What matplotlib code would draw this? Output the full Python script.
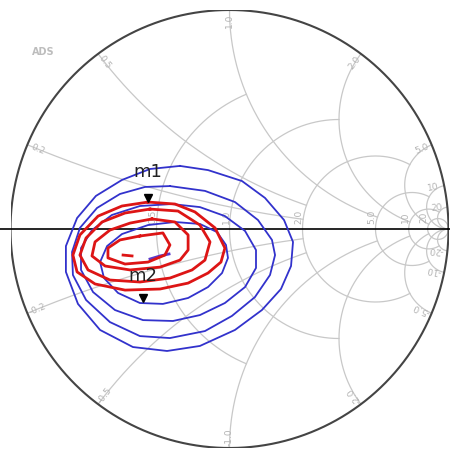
import numpy as np
import matplotlib.pyplot as plt

# Smith chart grid: resistance circles and reactance arcs, with the
# value up to which each one is drawn
r_vals = [0.5, 1.0, 2.0, 5.0, 10.0, 20.0]
r_clip = [1.0, 2.0, 5.0, 10.0, 20.0, np.inf]
x_vals = [0.2, 0.5, 1.0, 2.0, 5.0, 10.0, 20.0]
x_clip = [2.0, 2.0, 5.0, 10.0, 20.0, np.inf, np.inf]
edge_labels = ["0.2", "0.5", "1.0", "2.0", "5.0", "10", "20"]
axis_r = [0.5, 1.0, 2.0, 5.0, 10.0, 20.0]
axis_labels = ["0.5", "1.0", "2.0", "5.0", "10", "20"]

# power contours (reflection coefficient, real / imag)
b4_re = [-0.226, -0.098, 0.057, 0.162, 0.249, 0.290, 0.281, 0.235, 0.148, 0.025, -0.135,
         -0.285, -0.441, -0.591, -0.692, -0.747, -0.747, -0.696, -0.610, -0.491, -0.363]
b4_im = [0.288, 0.269, 0.219, 0.142, 0.041, -0.059, -0.169, -0.274, -0.370, -0.461, -0.534,
         -0.557, -0.539, -0.461, -0.342, -0.196, -0.078, 0.050, 0.151, 0.224, 0.274]
b3_re = [-0.272, -0.112, 0.025, 0.130, 0.194, 0.208, 0.185, 0.116, 0.011, -0.112,
         -0.272, -0.409, -0.546, -0.655, -0.715, -0.719, -0.683, -0.605, -0.500, -0.386]
b3_im = [0.196, 0.174, 0.123, 0.041, -0.050, -0.119, -0.210, -0.311, -0.397, -0.466,
         -0.498, -0.489, -0.425, -0.324, -0.210, -0.105, 0.005, 0.096, 0.160, 0.192]
b2_re = [-0.263, -0.135, -0.021, 0.071, 0.121, 0.121, 0.071, -0.021, -0.135,
         -0.258, -0.395, -0.523, -0.623, -0.678, -0.678, -0.628, -0.537, -0.409]
b2_im = [0.114, 0.100, 0.059, -0.009, -0.096, -0.178, -0.265, -0.338, -0.393,
         -0.420, -0.416, -0.370, -0.288, -0.187, -0.087, -0.005, 0.064, 0.105]
b1_re = [-0.249, -0.135, -0.057, -0.016, -0.007, -0.034, -0.098, -0.189,
         -0.304, -0.409, -0.509, -0.573, -0.591, -0.559, -0.491, -0.372]
b1_im = [0.032, 0.023, -0.014, -0.073, -0.132, -0.201, -0.265, -0.315,
         -0.342, -0.338, -0.292, -0.224, -0.151, -0.078, -0.023, 0.018]
b0_re = [-0.363, -0.317, -0.276]
b0_im = [-0.137, -0.123, -0.114]

# PAE contours
r4_re = [-0.372, -0.249, -0.158, -0.066, -0.021, -0.039, -0.098, -0.189,
         -0.317, -0.477, -0.614, -0.696, -0.715, -0.683, -0.600, -0.491]
r4_im = [0.123, 0.114, 0.078, 0.005, -0.087, -0.151, -0.201, -0.247,
         -0.274, -0.279, -0.251, -0.196, -0.119, -0.027, 0.059, 0.105]
r3_re = [-0.363, -0.235, -0.135, -0.089, -0.112, -0.171, -0.272,
         -0.409, -0.546, -0.646, -0.683, -0.655, -0.582, -0.477]
r3_im = [0.091, 0.082, 0.018, -0.059, -0.142, -0.187, -0.224,
         -0.242, -0.233, -0.187, -0.119, -0.041, 0.032, 0.073]
r2_re = [-0.354, -0.249, -0.189, -0.189, -0.226, -0.317,
         -0.454, -0.568, -0.628, -0.614, -0.546, -0.454]
r2_im = [0.046, 0.032, -0.027, -0.096, -0.142, -0.174,
         -0.187, -0.169, -0.123, -0.059, -0.005, 0.027]
r1_re = [-0.409, -0.304, -0.272, -0.295, -0.372, -0.477, -0.555, -0.555, -0.500]
r1_im = [-0.032, -0.018, -0.073, -0.119, -0.151, -0.160, -0.132, -0.087, -0.050]
r0_re = [-0.486, -0.445]
r0_im = [-0.119, -0.123]

markers = ["m1", "m2"]
marker_re = [-0.372, -0.395]
marker_im = [0.142, -0.315]
label_dy = [19, 16]

grid_c = "#c8c8c8"
label_c = "#b4b4b4"
blue = "#3232cc"
red = "#dd1515"


def gamma(z):
    return (z - 1) / (z + 1)


fig = plt.figure(figsize=(4.5, 4.53), dpi=100)
ax = fig.add_axes([10.5 / 450, 5 / 453, 438 / 450, 438 / 453])
ax.set_xlim(-1, 1)
ax.set_ylim(-1, 1)
ax.axis("off")

for r, xm in zip(r_vals, r_clip):
    if np.isfinite(xm):
        x = np.linspace(-xm, xm, 800)
    else:
        x = np.tan(np.linspace(-np.pi / 2 + 1e-4, np.pi / 2 - 1e-4, 2000))
    g = gamma(r + 1j * x)
    ax.plot(g.real, g.imag, color=grid_c, lw=0.9, zorder=1)

for xv, rm in zip(x_vals, x_clip):
    if np.isfinite(rm):
        r = np.linspace(0, rm, 800)
    else:
        r = np.tan(np.linspace(0, np.pi / 2 - 1e-4, 2000))
    for s in (1, -1):
        g = gamma(r + 1j * s * xv)
        ax.plot(g.real, g.imag, color=grid_c, lw=0.9, zorder=1)

# labels around the rim
for xv, lab in zip(x_vals, edge_labels):
    for s in (1, -1):
        g = gamma(1j * s * xv)
        th = np.degrees(np.angle(g))
        rot = th if 0 <= th <= 90 else (th - 180 if th > 90 else th + 180)
        p = 0.95 * g
        text = lab if s > 0 else "-" + lab
        ax.text(p.real, p.imag, text, color=label_c, fontsize=6.5, rotation=rot,
                ha="center", va="center", rotation_mode="anchor", zorder=1)

for r, lab in zip(axis_r, axis_labels):
    g = gamma(r)
    ax.text(g.real - 0.015, 0.055, lab, color=label_c, fontsize=6.5, rotation=90,
            ha="center", va="center", zorder=1)

t = np.linspace(0, 2 * np.pi, 800)
ax.plot(np.cos(t), np.sin(t), color="#444444", lw=1.5, zorder=2)
ax.plot([-0.03, 1.01], [0, 0], color="black", lw=1.2, clip_on=False,
        transform=ax.get_yaxis_transform(), zorder=2)

ax.text(-0.85, 0.81, "ADS", color="#bdbdbd", fontsize=7, fontweight="bold",
        ha="center", va="center")

for re, im in [(b4_re, b4_im), (b3_re, b3_im), (b2_re, b2_im), (b1_re, b1_im)]:
    ax.plot(re + re[:1], im + im[:1], color=blue, lw=1.3, zorder=3)
ax.plot(b0_re, b0_im, color="#5a3acc", lw=2, zorder=3)

for re, im in [(r4_re, r4_im), (r3_re, r3_im), (r2_re, r2_im), (r1_re, r1_im)]:
    ax.plot(re + re[:1], im + im[:1], color=red, lw=2.0, zorder=4)
ax.plot(r0_re, r0_im, color=red, lw=2, zorder=4)

for name, mx, my, dy in zip(markers, marker_re, marker_im, label_dy):
    ax.plot(mx, my, "v", color="black", ms=6, zorder=5)
    ax.annotate(name, (mx, my), xytext=(0, dy), textcoords="offset points",
                ha="center", va="center", fontsize=13, color="#222222", zorder=5)

fig.savefig("out.png", dpi=100)
